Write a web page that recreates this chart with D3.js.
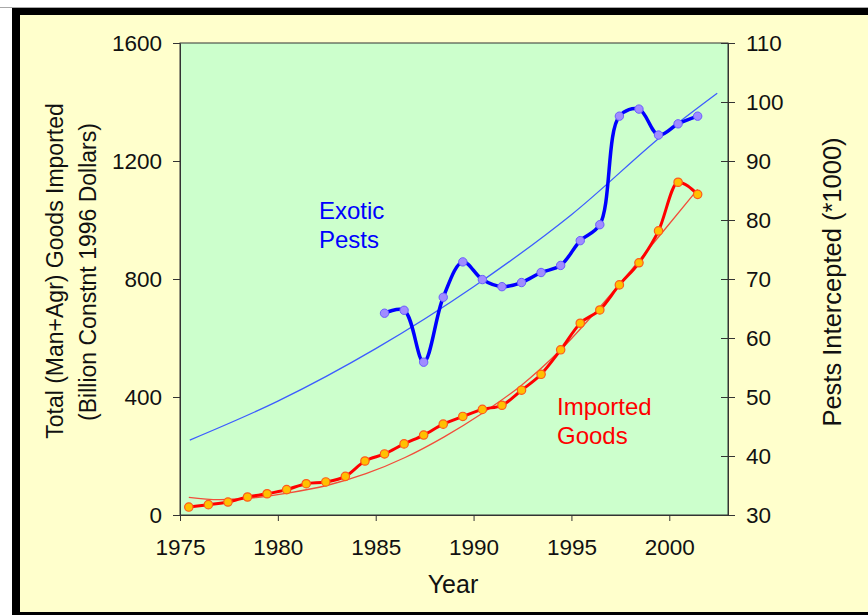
<!DOCTYPE html>
<html>
<head>
<meta charset="utf-8">
<script src="https://cdn.jsdelivr.net/npm/d3@7"></script>
<style>
  body { margin: 0; background: #fff; }
  svg { display: block; font-family: "Liberation Sans", Arial, sans-serif; }
</style>
</head>
<body>
<figure id="chart" style="margin:0"></figure>
<script>
// imported goods, billion constant 1996 dollars (left axis)
const importYears = d3.range(1975, 2002);
const importValues = [27, 35, 44, 61, 72, 86, 106, 112, 131, 183, 207, 241, 271, 308,
  334, 358, 372, 423, 477, 560, 650, 695, 780, 855, 963, 1128, 1087];

// exotic pests intercepted, thousands (right axis)
const pestYears = d3.range(1985, 2002);
const pestValues = [64.2, 64.7, 55.9, 66.9, 72.9, 69.9, 68.7, 69.4, 71.1, 72.3, 76.5,
  79.2, 97.6, 98.8, 94.4, 96.3, 97.6];

// trend lines
const importTrendYears = [1975.45, 1977, 1979, 1980.5, 1982.5, 1984.5, 1986.5, 1988.5,
  1990.45, 1992.45, 1994.45, 1996.45, 1998.45, 2001.45];
const importTrendValues = [60, 52, 60, 74, 100, 140, 195, 265, 345, 440, 560, 705, 862, 1104];
const pestTrendYears = [1975.5, 1980, 1985, 1990, 1995, 2000, 2002.45];
const pestTrendValues = [42.7, 49.3, 58.2, 68.7, 80.9, 95.3, 101.5];

const leftTicks = [0, 400, 800, 1200, 1600];
const rightTicks = d3.range(30, 111, 10);
const yearTicks = [1975, 1980, 1985, 1990, 1995, 2000];

const width = 868, height = 615;
const plot = { left: 180, top: 43, right: 728, bottom: 515 };
// markers sit in the middle of each year
const mid = 0.45;

const svg = d3.select("#chart").append("svg")
  .attr("width", width).attr("height", height);

// slide frame
svg.append("rect").attr("width", width).attr("height", height).attr("fill", "#fff");
svg.append("line").attr("x1", 0).attr("x2", width).attr("y1", 7.5).attr("y2", 7.5)
  .attr("stroke", "#a8a8a8");
svg.append("rect").attr("x", 12).attr("y", 8).attr("width", width).attr("height", height)
  .attr("fill", "#000");
svg.append("rect").attr("x", 20).attr("y", 15).attr("width", width).attr("height", 597)
  .attr("fill", "#ffffcc");

const x = d3.scaleLinear().domain([1975, 2003]).range([plot.left, plot.right]);
const yL = d3.scaleLinear().domain([0, 1600]).range([plot.bottom, plot.top]);
const yR = d3.scaleLinear().domain([30, 110]).range([plot.bottom, plot.top]);

svg.append("rect")
  .attr("x", plot.left).attr("y", plot.top)
  .attr("width", plot.right - plot.left).attr("height", plot.bottom - plot.top)
  .attr("fill", "#ccffcc").attr("stroke", "#333");

// axes
const styleAxis = g => {
  g.attr("font-size", null).attr("font-family", null);
  g.selectAll(".domain").attr("stroke", "#333");
  g.selectAll(".tick line").attr("stroke", "#333");
  g.selectAll("text").attr("fill", "#111").style("font-size", "22.5px");
};

svg.append("g")
  .attr("transform", `translate(${plot.left},0)`)
  .call(d3.axisLeft(yL).tickValues(leftTicks).tickFormat(d3.format("d"))
    .tickSize(7).tickPadding(11).tickSizeOuter(0))
  .call(styleAxis);

svg.append("g")
  .attr("transform", `translate(${plot.right},0)`)
  .call(d3.axisRight(yR).tickValues(rightTicks).tickSize(7).tickPadding(11).tickSizeOuter(0))
  .call(styleAxis)
  .call(g => g.selectAll(".tick line").attr("x1", -7));

svg.append("g")
  .attr("transform", `translate(0,${plot.bottom})`)
  .call(d3.axisBottom(x).tickValues(yearTicks).tickFormat(d3.format("d"))
    .tickSize(6).tickPadding(18).tickSizeOuter(0))
  .call(styleAxis);

// axis titles
svg.append("text")
  .attr("transform", "translate(63,271) rotate(-90)")
  .attr("text-anchor", "middle").style("font-size", "23px").attr("fill", "#111")
  .text("Total (Man+Agr) Goods Imported");
svg.append("text")
  .attr("transform", "translate(96,272) rotate(-90)")
  .attr("text-anchor", "middle").style("font-size", "23px").attr("fill", "#111")
  .text("(Billion Constnt 1996 Dollars)");
svg.append("text")
  .attr("transform", "translate(841,282) rotate(-90)")
  .attr("text-anchor", "middle").style("font-size", "25.5px").attr("fill", "#111")
  .text("Pests Intercepted (*1000)");
svg.append("text")
  .attr("x", 453).attr("y", 593)
  .attr("text-anchor", "middle").style("font-size", "25px").attr("fill", "#111")
  .text("Year");

// trend lines
const trendLine = d3.line().curve(d3.curveMonotoneX);

svg.append("path")
  .attr("d", trendLine(pestTrendYears.map((yr, i) => [x(yr), yR(pestTrendValues[i])])))
  .attr("fill", "none").attr("stroke", "#3d5cff").attr("stroke-width", 1.3);

svg.append("path")
  .attr("d", d3.line().curve(d3.curveCatmullRom)(
    importTrendYears.map((yr, i) => [x(yr), yL(importTrendValues[i])])))
  .attr("fill", "none").attr("stroke", "#f24d3a").attr("stroke-width", 1.3);

// data series
const smooth = d3.line().curve(d3.curveMonotoneX);

const pestPts = pestYears.map((yr, i) => [x(yr + mid), yR(pestValues[i])]);
svg.append("path")
  .attr("d", d3.line().curve(d3.curveCatmullRom.alpha(0.5))(pestPts))
  .attr("fill", "none").attr("stroke", "#0000ff").attr("stroke-width", 3.5);
svg.selectAll(".pest").data(pestPts).enter().append("circle")
  .attr("cx", d => d[0]).attr("cy", d => d[1]).attr("r", 4.2)
  .attr("fill", "#a08cff").attr("stroke", "#6a5cff").attr("stroke-width", 1);

const importPts = importYears.map((yr, i) => [x(yr + mid), yL(importValues[i])]);
svg.append("path")
  .attr("d", smooth(importPts))
  .attr("fill", "none").attr("stroke", "#ff0000").attr("stroke-width", 3);
svg.selectAll(".imp").data(importPts).enter().append("circle")
  .attr("cx", d => d[0]).attr("cy", d => d[1]).attr("r", 4.2)
  .attr("fill", "#ffc000").attr("stroke", "#ff5a1a").attr("stroke-width", 1.2);

// series labels
const label = (lines, px, py, color) => {
  lines.forEach((t, i) => {
    svg.append("text").attr("x", px).attr("y", py + i * 29)
      .style("font-size", "24px").attr("fill", color).text(t);
  });
};
label(["Exotic", "Pests"], 319, 219, "#0000ff");
label(["Imported", "Goods"], 557, 415, "#ff0000");
</script>
</body>
</html>
